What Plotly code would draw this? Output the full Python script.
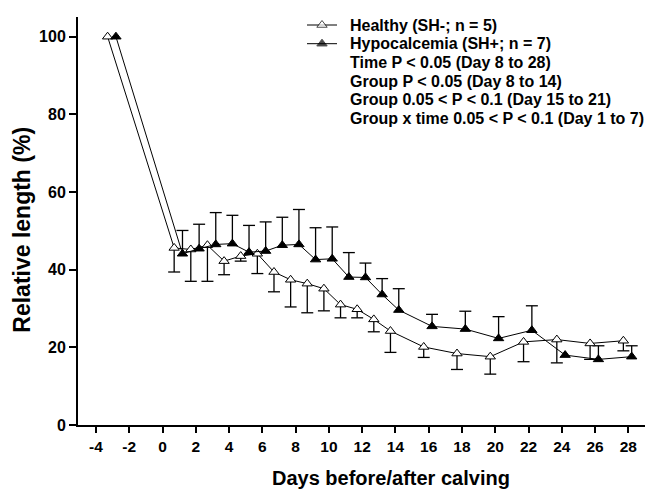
import plotly.graph_objects as go

# ---------------- data ----------------
days = [-3, 1, 2, 3, 4, 5, 6, 7, 8, 9, 10, 11, 12, 13, 14, 16, 18, 20, 22, 24, 26, 28]
healthy = [100, 45.6, 45.2, 46.3, 42.2, 43.5, 44.1, 39.4, 37.4, 36.4, 35.1, 31.0, 29.8,
           27.2, 24.2, 20.1, 18.4, 17.6, 21.4, 22.0, 21.0, 21.7]
healthy_se = [0, 6.2, 8.2, 9.3, 3.5, 1.3, 5.1, 5.1, 7.0, 7.5, 5.7, 3.4, 2.2,
              3.2, 5.5, 2.7, 4.1, 4.5, 5.1, 6.0, 4.1, 2.6]
hypo = [100, 44.1, 45.4, 46.5, 46.7, 44.5, 44.8, 46.3, 46.5, 42.6, 42.8, 38.1, 38.0,
        33.6, 29.6, 25.4, 24.7, 22.3, 24.4, 18.0, 16.9, 17.6]
hypo_se = [0, 6.0, 6.3, 8.2, 7.3, 6.9, 7.5, 7.2, 9.0, 8.2, 8.2, 6.3, 3.7,
           4.1, 5.5, 3.1, 4.6, 5.6, 6.3, 0, 3.5, 2.8]

names = ["Healthy (SH-; n = 5)", "Hypocalcemia (SH+; n = 7)"]
notes = ["Time P < 0.05 (Day 8 to 28)",
         "Group P < 0.05 (Day 8 to 14)",
         "Group 0.05 < P < 0.1 (Day 15 to 21)",
         "Group x time 0.05 < P < 0.1 (Day 1 to 7)"]
x_ticks = list(range(-4, 29, 2))
y_ticks = list(range(0, 101, 20))

# ---------------- style ----------------
FONT = "Arial, Liberation Sans, Helvetica, sans-serif"
OFF_H, OFF_S = -0.3, 0.2      # horizontal dodge of the two groups
CAP = 0.36                    # half cap width in day units
XR = [-5.08, 29.0]
YR = [0, 105.07]
L, R, T, B = 78, 645, 17, 425  # plot area in pixels
W, H = 646, 492
LEG_TEXT_X = 348
LEG_Y0, LEG_DY = 25, 18.7
LEG_LINE = (307, 337)


def px_x(p):
    return (p - L) / (R - L)


def px_y(p):
    return (B - p) / (B - T)


def err_segments(xs, ys, es, sign):
    ex, ey = [], []
    for x, y, e in zip(xs, ys, es):
        if e <= 0:
            continue
        end = y + sign * e
        ex += [x, x, None, x - CAP, x + CAP, None]
        ey += [y, end, None, end, end, None]
    return ex, ey


xh = [d + OFF_H for d in days]
xs = [d + OFF_S for d in days]

fig = go.Figure()

ex, ey = err_segments(xh, healthy, healthy_se, -1)
fig.add_trace(go.Scatter(x=ex, y=ey, mode="lines", line=dict(color="black", width=1.3),
                         showlegend=False, hoverinfo="skip"))
ex, ey = err_segments(xs, hypo, hypo_se, +1)
fig.add_trace(go.Scatter(x=ex, y=ey, mode="lines", line=dict(color="black", width=1.3),
                         showlegend=False, hoverinfo="skip"))

marker_h = dict(symbol="triangle-up", size=9, color="white", line=dict(color="black", width=1))
marker_s = dict(symbol="triangle-up", size=9, color="black", line=dict(color="black", width=1))

fig.add_trace(go.Scatter(x=xh, y=healthy, name=names[0], mode="lines+markers",
                         line=dict(color="black", width=1), marker=marker_h,
                         showlegend=False))
fig.add_trace(go.Scatter(x=xs, y=hypo, name=names[1], mode="lines+markers",
                         line=dict(color="black", width=1), marker=marker_s,
                         showlegend=False))

# legend samples drawn on an overlay axis measured in pixels
mid = (LEG_LINE[0] + LEG_LINE[1]) / 2
for i, mk in enumerate([marker_h, marker_s]):
    yy = LEG_Y0 + LEG_DY * i
    fig.add_trace(go.Scatter(x=[LEG_LINE[0], mid, LEG_LINE[1]], y=[yy, yy, yy],
                             mode="lines+markers", xaxis="x2", yaxis="y2",
                             line=dict(color="black", width=1),
                             marker=dict(mk, size=[0, 9, 0]),
                             showlegend=False, hoverinfo="skip", cliponaxis=False))

ann = []
lines = names + notes
for i, t in enumerate(lines):
    ann.append(dict(text="<b>" + t + "</b>", xref="paper", yref="paper",
                    x=px_x(LEG_TEXT_X), y=px_y(LEG_Y0 + LEG_DY * i),
                    xanchor="left", yanchor="middle", showarrow=False,
                    font=dict(family=FONT, size=16, color="black")))
ann.append(dict(text="<b>Days before/after calving</b>", xref="paper", yref="paper",
                x=px_x(391), y=px_y(478), xanchor="center",
                yanchor="middle", showarrow=False,
                font=dict(family=FONT, size=20, color="black")))
ann.append(dict(text="<b>Relative length (%)</b>", xref="paper", yref="paper",
                x=px_x(21.7), y=px_y(230), xanchor="center",
                yanchor="middle", textangle=-90, showarrow=False,
                font=dict(family=FONT, size=23, color="black")))

fig.update_layout(
    width=W, height=H,
    margin=dict(l=L, r=W - R, t=T, b=H - B),
    plot_bgcolor="white", paper_bgcolor="white",
    font=dict(family=FONT, size=15, color="black"),
    showlegend=False,
    annotations=ann,
    xaxis=dict(range=XR, tickmode="array", tickvals=x_ticks,
               ticktext=["<b>%d</b>" % v for v in x_ticks],
               showgrid=False, zeroline=False, showline=True, linecolor="black",
               linewidth=2, ticks="outside", ticklen=6, tickwidth=1.5,
               tickcolor="black", tickfont=dict(family=FONT, size=15.5)),
    yaxis=dict(range=YR, tickmode="array", tickvals=y_ticks,
               ticktext=["<b>%d</b>" % v for v in y_ticks],
               showgrid=False, zeroline=False, showline=True, linecolor="black",
               linewidth=2, ticks="outside", ticklen=7, tickwidth=1.5,
               tickcolor="black", tickfont=dict(family=FONT, size=16)),
    xaxis2=dict(range=[L, R], overlaying="x", visible=False, fixedrange=True),
    yaxis2=dict(range=[B, T], overlaying="y", visible=False, fixedrange=True),
)

fig.write_html("out.html")
